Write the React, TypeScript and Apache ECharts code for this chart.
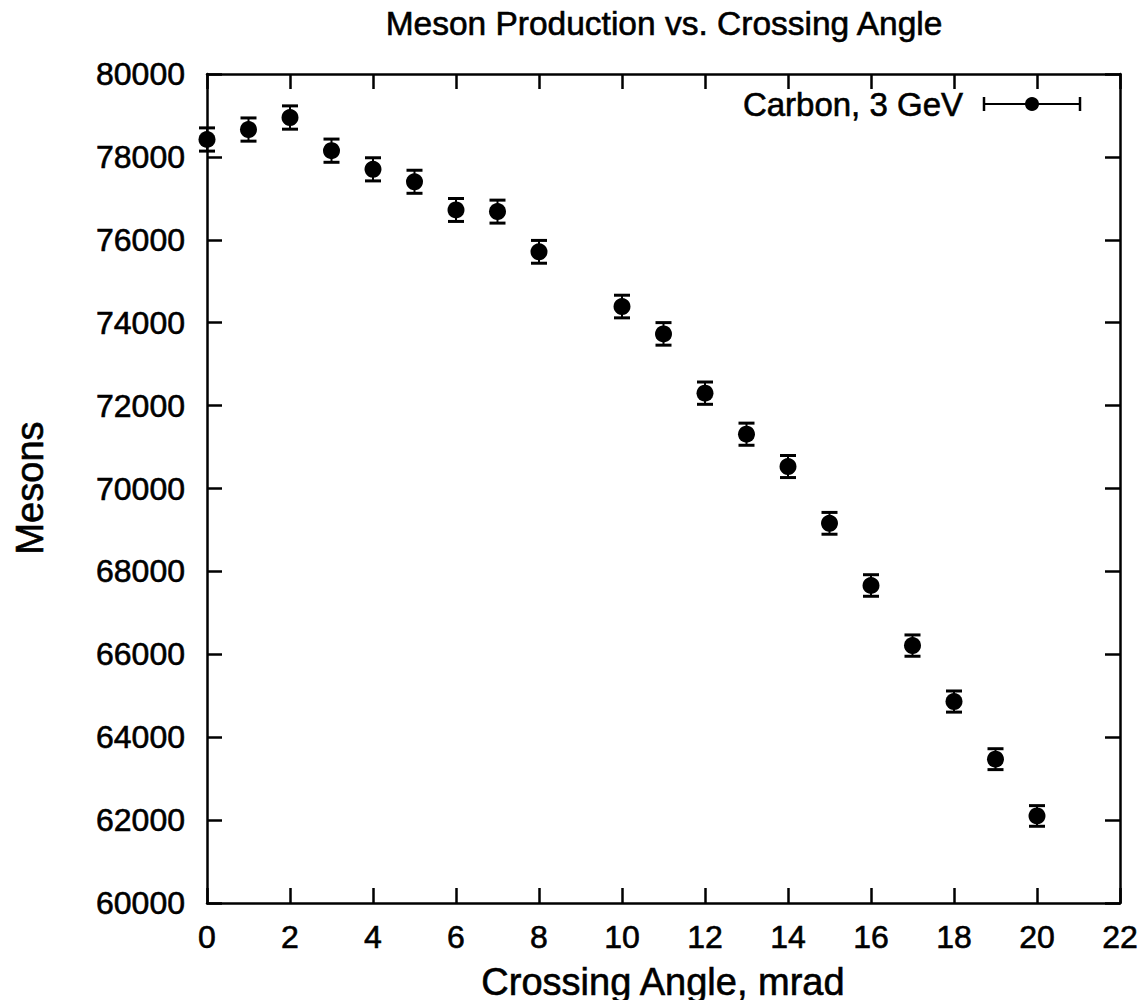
import React, { useEffect, useRef } from "react";
import * as echarts from "echarts";

const angles = [0, 1, 2, 3, 4, 5, 6, 7, 8, 10, 11, 12, 13, 14, 15, 16, 17, 18, 19, 20];
const mesons = [78420, 78660, 78950, 78150, 77700, 77400, 76720, 76680, 75710, 74390, 73730, 72300, 71310, 70530, 69160, 67660, 66210, 64860, 63470, 62100];
const errors = [280, 280, 281, 280, 279, 278, 277, 277, 275, 273, 272, 269, 267, 266, 263, 260, 257, 255, 252, 249];
const xTicks = [0, 2, 4, 6, 8, 10, 12, 14, 16, 18, 20, 22];
const yTicks = [60000, 62000, 64000, 66000, 68000, 70000, 72000, 74000, 76000, 78000, 80000];

const titleText = "Meson Production vs. Crossing Angle";
const xName = "Crossing Angle, mrad";
const yName = "Mesons";
const seriesName = "Carbon, 3 GeV";

const FONT = "'Liberation Sans', Arial, Helvetica, sans-serif";
const HEAVY = { textBorderColor: "#000", textBorderWidth: 0.6 };

export default function App() {
  const ref = useRef<HTMLDivElement>(null);
  useEffect(() => {
    if (!ref.current) return;
    const chart = echarts.init(ref.current, null, { renderer: "svg" });
    const pts = angles.map((a, i) => [a, mesons[i], errors[i]]);
    const axisCommon = {
      type: "value",
      axisLine: { show: true, onZero: false, lineStyle: { color: "#000", width: 2.5 } },
      axisTick: { show: true, inside: true, length: 15, lineStyle: { color: "#000", width: 2.5 } },
      splitLine: { show: false },
    };
    chart.setOption({
      animation: false,
      backgroundColor: "#fff",
      grid: { left: 207, right: 26, top: 74, bottom: 105, containLabel: false },
      xAxis: [
        {
          ...axisCommon,
          position: "bottom",
          min: xTicks[0],
          max: xTicks[xTicks.length - 1],
          interval: 2,
          axisLabel: { show: true, color: "#000", fontSize: 32, fontFamily: FONT, margin: 18, ...HEAVY },
        },
        {
          ...axisCommon,
          position: "top",
          min: xTicks[0],
          max: xTicks[xTicks.length - 1],
          interval: 2,
          axisLabel: { show: false },
        },
      ],
      yAxis: [
        {
          ...axisCommon,
          position: "left",
          min: yTicks[0],
          max: yTicks[yTicks.length - 1],
          interval: 2000,
          axisLabel: {
            show: true,
            color: "#000",
            fontSize: 32,
            fontFamily: FONT,
            margin: 22,
            formatter: (v: number) => String(v),
            ...HEAVY,
          },
        },
        {
          ...axisCommon,
          position: "right",
          min: yTicks[0],
          max: yTicks[yTicks.length - 1],
          interval: 2000,
          axisLabel: { show: false },
        },
      ],
      graphic: [
        {
          type: "text",
          x: 664,
          y: 23,
          style: { text: titleText, fill: "#000", font: `33.5px ${FONT}`, textAlign: "center", textVerticalAlign: "middle", stroke: "#000", lineWidth: 0.6 },
        },
        {
          type: "text",
          x: 663,
          y: 982,
          style: { text: xName, fill: "#000", font: `38px ${FONT}`, textAlign: "center", textVerticalAlign: "middle", stroke: "#000", lineWidth: 0.6 },
        },
        {
          type: "text",
          x: 30,
          y: 488,
          rotation: Math.PI / 2,
          style: { text: yName, fill: "#000", font: `38px ${FONT}`, textAlign: "center", textVerticalAlign: "middle", stroke: "#000", lineWidth: 0.6 },
        },
        {
          type: "text",
          x: 963,
          y: 104,
          style: { text: seriesName, fill: "#000", font: `33px ${FONT}`, textAlign: "right", textVerticalAlign: "middle", stroke: "#000", lineWidth: 0.6 },
        },
        { type: "line", shape: { x1: 984, y1: 104, x2: 1080, y2: 104 }, style: { stroke: "#000", lineWidth: 2 } },
        { type: "line", shape: { x1: 984, y1: 97, x2: 984, y2: 111 }, style: { stroke: "#000", lineWidth: 2.5 } },
        { type: "line", shape: { x1: 1080, y1: 97, x2: 1080, y2: 111 }, style: { stroke: "#000", lineWidth: 2.5 } },
        { type: "circle", shape: { cx: 1032, cy: 104, r: 7 }, style: { fill: "#000" } },
      ],
      series: [
        {
          type: "custom",
          name: seriesName,
          xAxisIndex: 0,
          yAxisIndex: 0,
          data: pts,
          clip: false,
          renderItem: (params: any, api: any) => {
            const x = api.value(0);
            const y = api.value(1);
            const e = api.value(2);
            const top = api.coord([x, y + e]);
            const bot = api.coord([x, y - e]);
            const hw = 8;
            const st = { stroke: "#000", lineWidth: 2 };
            const cap = { stroke: "#000", lineWidth: 3 };
            return {
              type: "group",
              children: [
                { type: "line", shape: { x1: top[0], y1: top[1], x2: bot[0], y2: bot[1] }, style: st },
                { type: "line", shape: { x1: top[0] - hw, y1: top[1], x2: top[0] + hw, y2: top[1] }, style: cap },
                { type: "line", shape: { x1: bot[0] - hw, y1: bot[1], x2: bot[0] + hw, y2: bot[1] }, style: cap },
              ],
            };
          },
        },
        {
          type: "scatter",
          name: seriesName,
          xAxisIndex: 0,
          yAxisIndex: 0,
          data: pts.map((p) => [p[0], p[1]]),
          symbol: "circle",
          symbolSize: 17,
          itemStyle: { color: "#000", opacity: 1 },
          clip: false,
        },
      ],
    });
    return () => chart.dispose();
  }, []);
  return <div ref={ref} style={{ width: 1146, height: 1008, margin: -8 }} />;
}
